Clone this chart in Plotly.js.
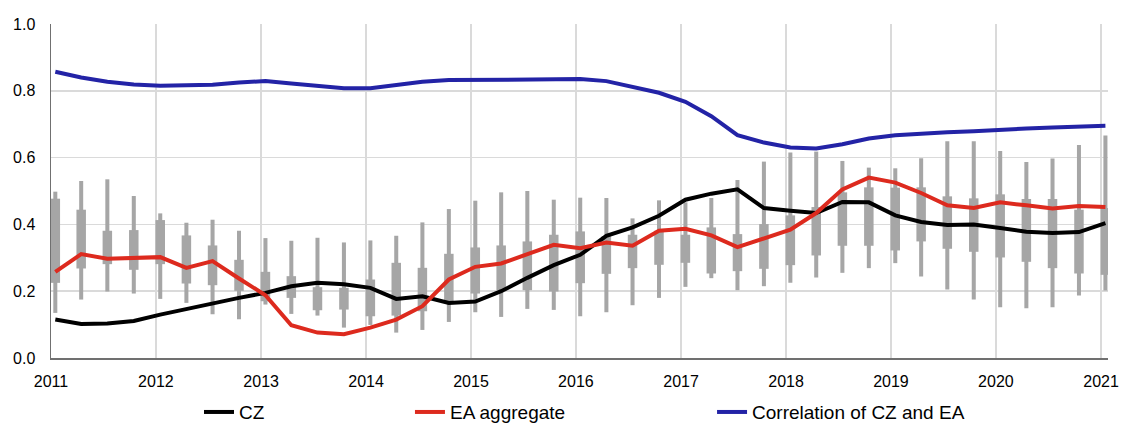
<!DOCTYPE html>
<html>
<head>
<meta charset="utf-8">
<script src="https://cdn.plot.ly/plotly-3.0.1.min.js"></script>
<style>html,body{margin:0;padding:0;background:#fff;}#chart{width:1122px;height:423px;}</style>
</head>
<body>
<div id="chart"></div>
<script>
const dates = [
  "2011-01-16","2011-04-16","2011-07-16","2011-10-16",
  "2012-01-16","2012-04-16","2012-07-16","2012-10-16",
  "2013-01-16","2013-04-16","2013-07-16","2013-10-16",
  "2014-01-16","2014-04-16","2014-07-16","2014-10-16",
  "2015-01-16","2015-04-16","2015-07-16","2015-10-16",
  "2016-01-16","2016-04-16","2016-07-16","2016-10-16",
  "2017-01-16","2017-04-16","2017-07-16","2017-10-16",
  "2018-01-16","2018-04-16","2018-07-16","2018-10-16",
  "2019-01-16","2019-04-16","2019-07-16","2019-10-16",
  "2020-01-16","2020-04-16","2020-07-16","2020-10-16",
  "2021-01-16"
];
const cz = [0.115,0.102,0.103,0.111,0.130,0.147,0.163,0.180,0.195,0.215,0.225,0.221,0.210,0.177,0.185,0.165,0.169,0.200,0.240,0.278,0.309,0.366,0.391,0.426,0.474,0.492,0.505,0.449,0.441,0.434,0.467,0.466,0.427,0.407,0.398,0.400,0.389,0.378,0.374,0.377,0.404];
const eaAggregate = [0.258,0.311,0.297,0.300,0.302,0.270,0.290,0.238,0.188,0.098,0.076,0.071,0.091,0.115,0.155,0.235,0.273,0.283,0.311,0.339,0.329,0.346,0.336,0.381,0.387,0.367,0.332,0.359,0.384,0.434,0.505,0.540,0.525,0.494,0.457,0.449,0.466,0.457,0.448,0.455,0.452];
const correlation = [0.857,0.840,0.827,0.819,0.815,0.816,0.818,0.825,0.829,0.822,0.814,0.808,0.808,0.817,0.827,0.832,0.833,0.834,0.835,0.836,0.835,0.829,0.812,0.794,0.767,0.724,0.667,0.645,0.630,0.627,0.640,0.657,0.667,0.672,0.676,0.679,0.684,0.687,0.690,0.693,0.695];
const rangeMin = [0.135,0.175,0.199,0.193,0.177,0.165,0.131,0.116,0.160,0.132,0.127,0.091,0.099,0.076,0.084,0.108,0.137,0.123,0.147,0.144,0.125,0.137,0.158,0.180,0.213,0.239,0.203,0.215,0.225,0.241,0.255,0.269,0.284,0.244,0.205,0.175,0.152,0.149,0.152,0.187,0.202];
const boxLow = [0.225,0.268,0.281,0.264,0.281,0.223,0.218,0.201,0.170,0.180,0.143,0.145,0.125,0.127,0.140,0.167,0.193,0.203,0.203,0.199,0.224,0.252,0.269,0.279,0.285,0.253,0.260,0.267,0.278,0.307,0.336,0.336,0.322,0.349,0.327,0.318,0.301,0.288,0.269,0.253,0.249];
const boxHigh = [0.477,0.444,0.381,0.383,0.413,0.367,0.337,0.294,0.258,0.245,0.212,0.210,0.235,0.285,0.270,0.312,0.331,0.337,0.349,0.369,0.379,0.365,0.369,0.381,0.369,0.391,0.371,0.401,0.427,0.452,0.496,0.511,0.510,0.511,0.484,0.478,0.490,0.476,0.476,0.444,0.449];
const rangeMax = [0.498,0.530,0.535,0.485,0.433,0.405,0.414,0.381,0.359,0.351,0.360,0.346,0.352,0.366,0.406,0.446,0.471,0.496,0.500,0.474,0.480,0.479,0.418,0.472,0.466,0.479,0.533,0.588,0.615,0.618,0.590,0.570,0.568,0.598,0.649,0.649,0.620,0.587,0.597,0.638,0.666];
const yTicks = [0, 0.2, 0.4, 0.6, 0.8, 1.0];
const seriesNames = ["CZ", "EA aggregate", "Correlation of CZ and EA"];

const DAY = 86400000;
const grey = "#A6A6A6";
const traces = [
  {type:"bar", x:dates, base:rangeMin, y:rangeMax.map((v,i)=>v-rangeMin[i]), width:dates.map(()=>14*DAY),
   marker:{color:grey, line:{width:0}}, showlegend:false, hoverinfo:"skip"},
  {type:"bar", x:dates, base:boxLow, y:boxHigh.map((v,i)=>v-boxLow[i]), width:dates.map(()=>33*DAY),
   marker:{color:grey, line:{width:0}}, showlegend:false, hoverinfo:"skip"},
  {type:"scatter", mode:"lines", x:dates, y:cz, name:seriesNames[0], line:{color:"#000000", width:4}, legend:"legend"},
  {type:"scatter", mode:"lines", x:dates, y:eaAggregate, name:seriesNames[1], line:{color:"#DD2A1E", width:4}, legend:"legend2"},
  {type:"scatter", mode:"lines", x:dates, y:correlation, name:seriesNames[2], line:{color:"#2323A6", width:4}, legend:"legend3"}
];

const font = {family:"Liberation Sans, Arial, sans-serif", size:16, color:"#000"};
const legBase = {orientation:"h", yref:"paper", y:-0.162, yanchor:"middle", xanchor:"left", bgcolor:"rgba(0,0,0,0)",
  font:{family:"Liberation Sans, Arial, sans-serif", size:19, color:"#000"}};
const layout = {
  width:1122, height:423,
  margin:{l:51, r:14, t:24, b:65, pad:0, autoexpand:false},
  paper_bgcolor:"#fff", plot_bgcolor:"#fff",
  font:font,
  barmode:"overlay",
  hovermode:false,
  xaxis:{type:"date", range:["2011-01-01","2021-01-25"], tick0:"2011-01-01", dtick:"M12", tickformat:"%Y",
    showgrid:true, gridcolor:"#DADADA", gridwidth:1.5, showline:true, linecolor:"#707070", linewidth:1.5,
    ticks:"", ticklabelstandoff:8, zeroline:false, tickfont:font, automargin:false},
  yaxis:{range:[0,1.0], tickvals:yTicks, tickformat:".1f", showgrid:true, gridcolor:"#DADADA", gridwidth:1.5,
    showline:true, linecolor:"#707070", linewidth:1.5, ticks:"", ticklabelstandoff:11, zeroline:false, tickfont:font, automargin:false},
  legend:Object.assign({}, legBase, {x:0.140}),
  legend2:Object.assign({}, legBase, {x:0.3396}),
  legend3:Object.assign({}, legBase, {x:0.6254}),
  showlegend:true
};
Plotly.newPlot("chart", traces, layout, {displayModeBar:false, staticPlot:true});
</script>
</body>
</html>
